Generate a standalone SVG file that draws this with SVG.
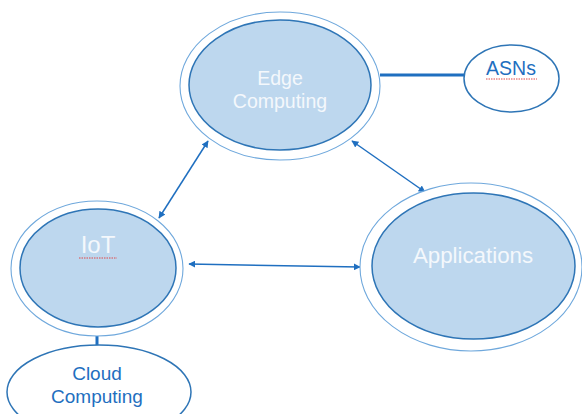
<svg xmlns="http://www.w3.org/2000/svg" width="582" height="414" viewBox="0 0 582 414">
  <style>
    .outer { fill: #ffffff; stroke: #6fa8dc; stroke-width: 1.1; }
    .inner { fill: #bdd7ee; stroke: #2e75b6; stroke-width: 1.5; }
    .plain { fill: #ffffff; stroke: #2e75b6; stroke-width: 1.5; }
    .light { font-family: "Liberation Sans", Arial, sans-serif; fill: #f4f8fc; text-anchor: middle; }
    .dark { font-family: "Liberation Sans", Arial, sans-serif; fill: #1f6fc0; text-anchor: middle; }
    .link { stroke: #1f6fc0; stroke-width: 1.5; fill: none; marker-start: url(#head); marker-end: url(#head); }
    .bar { stroke: #1f6fc0; stroke-width: 3; fill: none; }
    .squiggle { stroke: #e04848; stroke-width: 1; fill: none; stroke-dasharray: 1.5 1; }
  </style>
  <defs>
    <marker id="head" viewBox="0 0 10 10" refX="9" refY="5" markerWidth="7" markerHeight="7" orient="auto-start-reverse" markerUnits="userSpaceOnUse">
      <path d="M0,0 L10,5 L0,10 z" fill="#1f6fc0"/>
    </marker>
  </defs>

  <g id="connectors">
    <line class="link" x1="159" y1="218" x2="208" y2="141"/>
    <line class="link" x1="352" y1="141" x2="425" y2="192"/>
    <line class="link" x1="189" y1="264" x2="360" y2="267"/>
    <line class="bar" x1="380" y1="75" x2="464" y2="75"/>
    <line class="bar" x1="97" y1="336" x2="97" y2="346"/>
  </g>

  <g id="edge-computing">
    <ellipse class="outer" cx="280" cy="86" rx="100" ry="74"/>
    <ellipse class="inner" cx="280" cy="85" rx="91" ry="65"/>
    <text class="light" x="280" y="85" font-size="19.5">Edge</text>
    <text class="light" x="280" y="108" font-size="19.5">Computing</text>
  </g>

  <g id="asns">
    <ellipse class="plain" cx="511.5" cy="78.5" rx="47.5" ry="33.5"/>
    <text class="dark" x="511" y="75" font-size="19.5">ASNs</text>
    <line class="squiggle" x1="486" y1="79" x2="537" y2="79"/>
  </g>

  <g id="iot">
    <ellipse class="outer" cx="97" cy="268.5" rx="86" ry="67.5"/>
    <ellipse class="inner" cx="98" cy="268" rx="78" ry="59"/>
    <text class="light" x="98" y="253" font-size="24">IoT</text>
    <line class="squiggle" x1="79" y1="258" x2="117" y2="258"/>
  </g>

  <g id="applications">
    <ellipse class="outer" cx="471" cy="267" rx="111" ry="84"/>
    <ellipse class="inner" cx="473.5" cy="266" rx="101.5" ry="73"/>
    <text class="light" x="473" y="263" font-size="22.3">Applications</text>
  </g>

  <g id="cloud-computing">
    <ellipse class="plain" cx="99" cy="392" rx="92" ry="47"/>
    <text class="dark" x="97" y="380" font-size="19">Cloud</text>
    <text class="dark" x="97" y="403" font-size="19">Computing</text>
  </g>
</svg>
